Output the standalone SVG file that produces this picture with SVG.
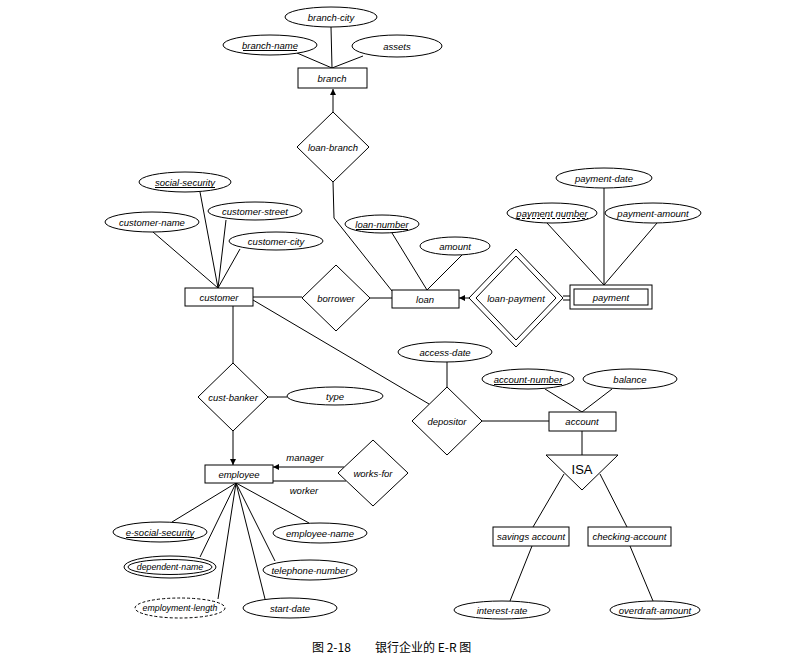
<svg xmlns="http://www.w3.org/2000/svg" width="786" height="665" viewBox="0 0 786 665">
<defs>
<style>
.s{fill:#fff;stroke:#000;stroke-width:1}
.d{fill:#fff;stroke:#000;stroke-width:1;stroke-dasharray:3 2}
.n{fill:none;stroke:#000;stroke-width:1}
.c line,.c polyline{fill:none;stroke:#000;stroke-width:1}
text{font-family:"Liberation Sans",Arial,sans-serif;font-size:9.5px;font-style:italic;text-anchor:middle;fill:#000}
.sm{font-size:8.8px}
.u{stroke:#000;stroke-width:1}
.ud{stroke:#000;stroke-width:1;stroke-dasharray:3 2}
.isa{font-style:normal;font-size:13px}
.cap{font-family:"Noto Sans CJK SC","Liberation Sans",sans-serif;font-style:normal;font-size:12px;text-anchor:start}
</style>
<marker id="ar" markerWidth="6" markerHeight="6" refX="6" refY="3" orient="auto" markerUnits="userSpaceOnUse">
<path d="M0,0 L6,3 L0,6 z" fill="#000"/>
</marker>
</defs>
<rect width="786" height="665" fill="#fff"/>

<g class="c" id="connectors">
<line x1="331" y1="27" x2="332" y2="68"/>
<line x1="297" y1="53" x2="332" y2="68"/>
<line x1="363" y1="56" x2="332" y2="68"/>
<line x1="333" y1="112" x2="333" y2="89" marker-end="url(#ar)"/>
<polyline points="333,182 334,218 392,291"/>
<line x1="200" y1="192" x2="218" y2="288"/>
<line x1="153" y1="232" x2="218" y2="288"/>
<line x1="226" y1="220" x2="218" y2="288"/>
<line x1="240" y1="249" x2="218" y2="288"/>
<line x1="253" y1="297" x2="302" y2="297"/>
<line x1="370" y1="298" x2="392" y2="298"/>
<line x1="392" y1="233" x2="427" y2="290"/>
<line x1="462" y1="255" x2="427" y2="290"/>
<line x1="469" y1="298" x2="459" y2="298" marker-end="url(#ar)"/>
<line x1="563" y1="296" x2="570" y2="296"/>
<line x1="563" y1="300" x2="570" y2="300"/>
<line x1="604" y1="188" x2="604" y2="285"/>
<line x1="547" y1="223" x2="604" y2="285"/>
<line x1="657" y1="223" x2="604" y2="285"/>
<line x1="253" y1="300" x2="429" y2="404"/>
<line x1="447" y1="362" x2="447" y2="387"/>
<line x1="482" y1="421" x2="549" y2="421"/>
<line x1="545" y1="389" x2="582" y2="412"/>
<line x1="612" y1="389" x2="582" y2="412"/>
<line x1="582" y1="431" x2="582" y2="455"/>
<line x1="564" y1="474" x2="533" y2="527"/>
<line x1="600" y1="474" x2="627" y2="527"/>
<line x1="532" y1="546" x2="510" y2="601"/>
<line x1="630" y1="546" x2="653" y2="601"/>
<line x1="233" y1="306" x2="233" y2="363"/>
<line x1="268" y1="397" x2="287" y2="397"/>
<line x1="233" y1="431" x2="233" y2="465" marker-end="url(#ar)"/>
<line x1="344" y1="467" x2="273" y2="467" marker-end="url(#ar)"/>
<line x1="346" y1="481" x2="273" y2="481"/>
<line x1="236" y1="483" x2="172" y2="522"/>
<line x1="236" y1="483" x2="309" y2="523"/>
<line x1="236" y1="483" x2="200" y2="557"/>
<line x1="236" y1="483" x2="218" y2="599"/>
<line x1="236" y1="483" x2="265" y2="599"/>
<line x1="236" y1="483" x2="275" y2="561"/>
<text x="305" y="461">manager</text>
<text x="304" y="494">worker</text>
</g>

<g id="branch-city"><ellipse class="s" cx="331" cy="17" rx="46" ry="10"/><text x="331" y="20.5">branch-city</text></g>
<g id="branch-name"><ellipse class="s" cx="270" cy="45" rx="47" ry="10"/><text x="270" y="48.5">branch-name</text><line class="u" x1="243" y1="50.5" x2="297" y2="50.5"/></g>
<g id="assets"><ellipse class="s" cx="397" cy="46" rx="45" ry="11"/><text x="397" y="49.5">assets</text></g>
<g id="branch"><rect class="s" x="298" y="68" width="69" height="20"/><text x="332" y="81.5">branch</text></g>
<g id="loan-branch"><polygon class="s" points="333,112 369,147 333,182 297,147"/><text x="333" y="150.5">loan-branch</text></g>

<g id="social-security"><ellipse class="s" cx="185" cy="182" rx="46" ry="10"/><text x="185" y="185.5">social-security</text><line class="u" x1="155" y1="187.5" x2="215" y2="187.5"/></g>
<g id="customer-street"><ellipse class="s" cx="255" cy="211" rx="47" ry="9"/><text x="255" y="214.5">customer-street</text></g>
<g id="customer-name"><ellipse class="s" cx="152" cy="222" rx="47" ry="10"/><text x="152" y="225.5">customer-name</text></g>
<g id="customer-city"><ellipse class="s" cx="276" cy="241" rx="47" ry="9"/><text x="276" y="244.5">customer-city</text></g>
<g id="customer"><rect class="s" x="185" y="288" width="68" height="18"/><text x="219" y="300.5">customer</text></g>
<g id="borrower"><polygon class="s" points="336,265 370,298 336,331 302,298"/><text x="336" y="301.5">borrower</text></g>
<g id="loan-number"><ellipse class="s" cx="382" cy="224" rx="37" ry="9"/><text x="382" y="227.5">loan-number</text><line class="u" x1="356" y1="229.5" x2="408" y2="229.5"/></g>
<g id="amount"><ellipse class="s" cx="455" cy="246" rx="35" ry="9"/><text x="455" y="249.5">amount</text></g>
<g id="loan"><rect class="s" x="392" y="290" width="67" height="18"/><text x="425" y="302.5">loan</text></g>
<g id="loan-payment"><polygon class="s" points="516,249 563,298 516,347 469,298"/><polygon class="n" points="516,256 556,298 516,340 476,298"/><text x="516" y="301.5">loan-payment</text></g>
<g id="payment-date"><ellipse class="s" cx="604" cy="178" rx="48" ry="10"/><text x="604" y="181.5">payment-date</text></g>
<g id="payment-number"><ellipse class="s" cx="552" cy="213" rx="45" ry="10"/><text x="552" y="216.5">payment number</text><line class="ud" x1="517" y1="218.5" x2="588" y2="218.5"/></g>
<g id="payment-amount"><ellipse class="s" cx="653" cy="213" rx="48" ry="10"/><text x="653" y="216.5">payment-amount</text></g>
<g id="payment"><rect class="s" x="570" y="285" width="82" height="24"/><rect class="n" x="574" y="289" width="74" height="16"/><text x="611" y="300.5">payment</text></g>

<g id="access-date"><ellipse class="s" cx="445" cy="352" rx="47" ry="10"/><text x="445" y="355.5">access-date</text></g>
<g id="depositor"><polygon class="s" points="447,387 482,421 447,455 412,421"/><text x="447" y="424.5">depositor</text></g>
<g id="account-number"><ellipse class="s" cx="528" cy="379" rx="46" ry="10"/><text x="528" y="382.5">account-number</text><line class="u" x1="494" y1="384.5" x2="562" y2="384.5"/></g>
<g id="balance"><ellipse class="s" cx="630" cy="379" rx="47" ry="10"/><text x="630" y="382.5">balance</text></g>
<g id="account"><rect class="s" x="549" y="412" width="67" height="19"/><text x="582" y="425">account</text></g>
<g id="isa"><polygon class="s" points="546,455 618,455 582,490"/><text class="isa" x="582" y="474">ISA</text></g>
<g id="savings-account"><rect class="s" x="493" y="527" width="76" height="19"/><text x="531" y="540">savings account</text></g>
<g id="checking-account"><rect class="s" x="588" y="527" width="83" height="19"/><text x="629.5" y="540">checking-account</text></g>
<g id="interest-rate"><ellipse class="s" cx="502" cy="610" rx="48" ry="9"/><text x="502" y="613.5">interest-rate</text></g>
<g id="overdraft-amount"><ellipse class="s" cx="655" cy="610" rx="45" ry="9"/><text x="655" y="613.5">overdraft-amount</text></g>

<g id="cust-banker"><polygon class="s" points="233,363 268,397 233,431 198,397"/><text x="233" y="400.5">cust-banker</text></g>
<g id="type"><ellipse class="s" cx="335" cy="396" rx="48" ry="9"/><text x="335" y="399.5">type</text></g>
<g id="employee"><rect class="s" x="205" y="465" width="68" height="18"/><text x="239" y="477.5">employee</text></g>
<g id="works-for"><polygon class="s" points="373,440 408,473 373,506 338,473"/><text x="373" y="476.5">works-for</text></g>
<g id="e-social-security"><ellipse class="s" cx="160" cy="532" rx="47" ry="10"/><text x="160" y="535.5">e-social-security</text><line class="u" x1="126" y1="537.5" x2="194" y2="537.5"/></g>
<g id="employee-name"><ellipse class="s" cx="320" cy="533" rx="47" ry="10"/><text x="320" y="536.5">employee-name</text></g>
<g id="dependent-name"><ellipse class="s" cx="170" cy="567" rx="46" ry="11"/><ellipse class="n" cx="170" cy="567" rx="42" ry="7.5"/><text class="sm" x="170" y="570">dependent-name</text></g>
<g id="telephone-number"><ellipse class="s" cx="310" cy="570" rx="47" ry="10"/><text x="310" y="573.5">telephone-number</text></g>
<g id="employment-length"><ellipse class="d" cx="180" cy="608" rx="45" ry="10"/><text class="sm" x="180" y="611">employment-length</text></g>
<g id="start-date"><ellipse class="s" cx="290" cy="608" rx="47" ry="10"/><text x="290" y="611.5">start-date</text></g>

<g id="caption"><text class="cap" x="312" y="652">图 2-18</text><text class="cap" x="375" y="652">银行企业的 E-R 图</text></g>
</svg>
